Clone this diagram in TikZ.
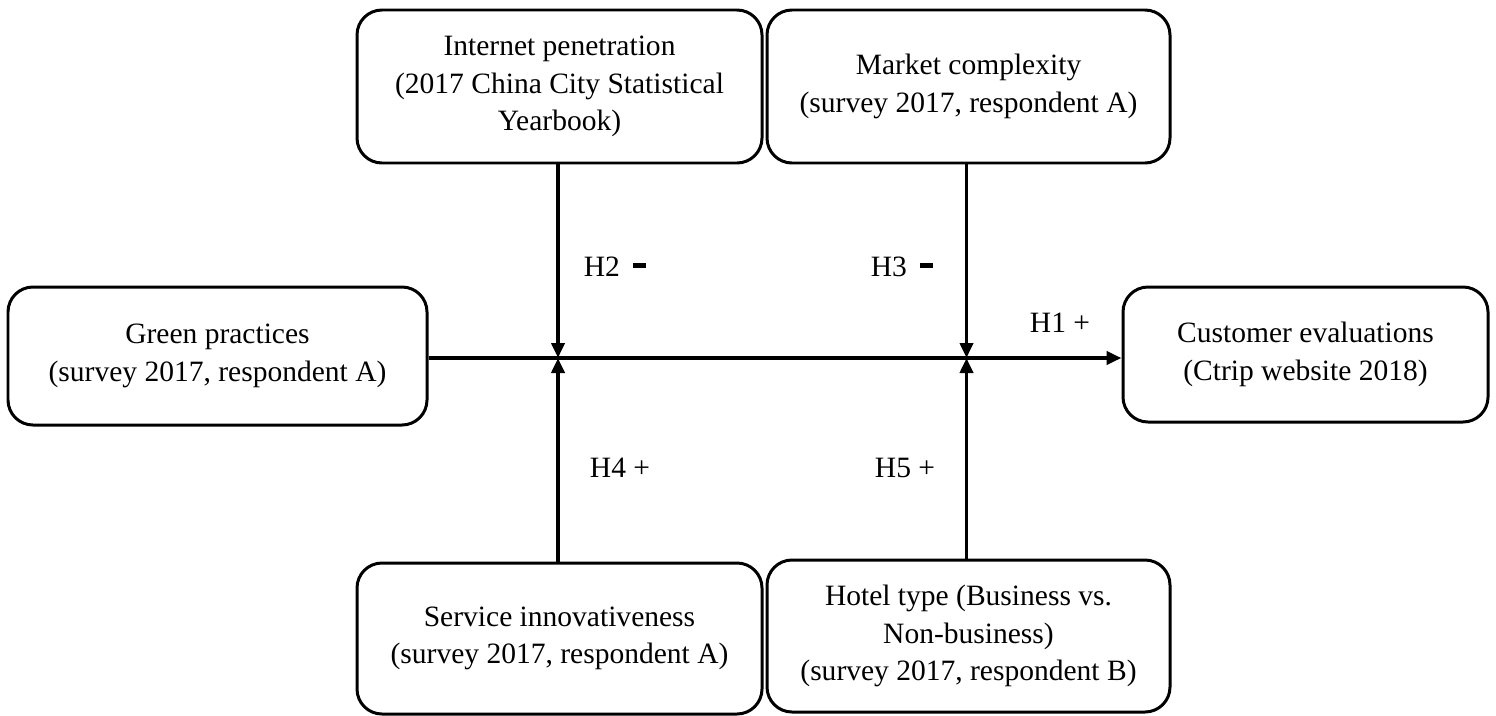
\documentclass[tikz,border=0pt]{standalone}
\usepackage{fontspec}
\setmainfont{Liberation Serif}
\usepackage{tikz}
\usetikzlibrary{positioning,arrows.meta}
\tikzset{varbox/.style={draw, line width=0.85pt, rounded corners=2.5mm,
        align=center, inner sep=0pt, font=\fontsize{8.4}{10.6}\selectfont}
}
\tikzset{path/.style={line width=1.1pt, -{Triangle[length=1.5mm,width=1.3mm]}}}
\tikzset{hyp/.style={font=\fontsize{8.4}{10.6}\selectfont}}
\newcommand{\negsign}{\hspace{0.6mm}\rule[0.65ex]{1.3mm}{0.45mm}}

\begin{document}
\begin{tikzpicture}
            \useasboundingbox (0,0) rectangle (14.96,7.15);
            \node[varbox, minimum width=4.19cm, minimum height=1.38cm] (green) at (2.175, 3.59) {Green practices\\(survey 2017, respondent A)};
            \node[varbox, minimum width=4.05cm, minimum height=1.53cm] (internet) at (5.595, 6.285) {Internet penetration\\(2017 China City Statistical\\Yearbook)};
            \node[varbox, minimum width=4.03cm, minimum height=1.53cm] (market) at (9.685, 6.285) {Market complexity\\(survey 2017, respondent A)};
            \node[varbox, minimum width=3.65cm, minimum height=1.35cm] (customer) at (13.055, 3.605) {Customer evaluations\\(Ctrip website 2018)};
            \node[varbox, minimum width=4.05cm, minimum height=1.51cm] (service) at (5.595, 0.765) {Service innovativeness\\(survey 2017, respondent A)};
            \node[varbox, minimum width=4.03cm, minimum height=1.52cm] (hoteltype) at (9.685, 0.79) {Hotel type (Business vs.\\Non-business)\\(survey 2017, respondent B)};
            \coordinate (m1) at (5.58, 3.57);
            \coordinate (m2) at (9.665, 3.57);
            \node[hyp] (h1) at (10.60, 3.92) {H1 +};
            \node[hyp] (h2) at (6.15, 4.48) {H2 \negsign};
            \node[hyp] (h3) at (9.02, 4.48) {H3 \negsign};
            \node[hyp] (h4) at (6.20, 2.47) {H4 +};
            \node[hyp] (h5) at (9.05, 2.47) {H5 +};
            \draw[path] (green.east |- m1) to (customer.west |- m1);
            \draw[path] (internet.south -| m1) to (m1);
            \draw[path] (service.north -| m1) to (m1);
            \draw[path] (market.south -| m2) to (m2);
            \draw[path] (hoteltype.north -| m2) to (m2);
        \end{tikzpicture}
\end{document}
